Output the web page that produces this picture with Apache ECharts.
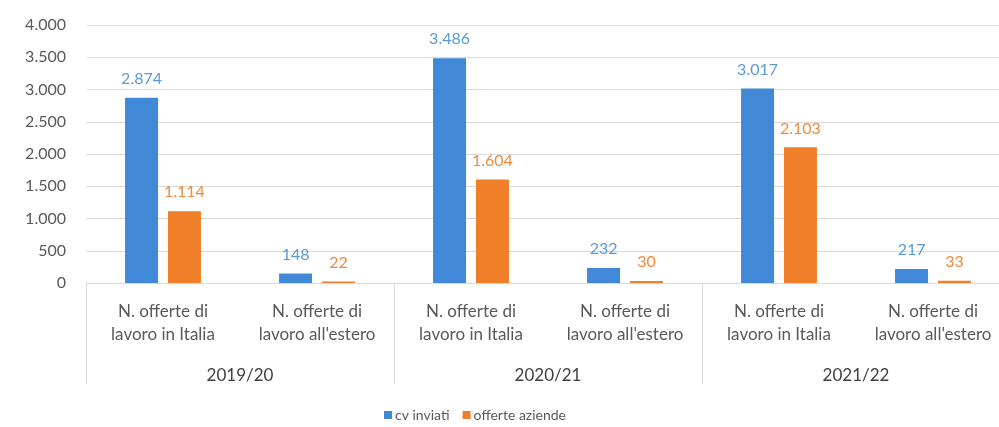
<!DOCTYPE html>
<html>
<head>
<meta charset="utf-8">
<script src="https://cdn.jsdelivr.net/npm/echarts@6/dist/echarts.min.js"></script>
<style>html,body{margin:0;padding:0;background:#fff;}#c{width:999px;height:427px;}</style>
</head>
<body>
<div id="c"></div>
<script>
const subCategories = ["N. offerte di\nlavoro in Italia", "N. offerte di\nlavoro all'estero",
                       "N. offerte di\nlavoro in Italia", "N. offerte di\nlavoro all'estero",
                       "N. offerte di\nlavoro in Italia", "N. offerte di\nlavoro all'estero"];
const groups = ["2019/20", "2020/21", "2021/22"];
const cvInviati = [2874, 148, 3486, 232, 3017, 217];
const offerteAziende = [1114, 22, 1604, 30, 2103, 33];
const seriesNames = ["cv inviati", "offerte aziende"];
const yTicks = { min: 0, max: 4000, interval: 500 };

const fmt = v => String(v).replace(/\B(?=(\d{3})+(?!\d))/g, '.');
const FONT = 'Lato, "Liberation Sans", sans-serif';
const chart = echarts.init(document.getElementById('c'), null, { renderer: 'canvas' });
chart.setOption({
  animation: false,
  backgroundColor: '#fff',
  textStyle: { fontFamily: FONT },
  grid: { left: 86, width: 924, top: 25, height: 258, containLabel: false, outerBoundsMode: 'none' },
  legend: {
    left: 379, top: 403, itemWidth: 8, itemHeight: 8, itemGap: 13,
    icon: 'rect',
    textStyle: { fontFamily: FONT, fontSize: 14, color: '#595959', padding: [0, 0, 0, -2] },
    data: seriesNames
  },
  xAxis: [
    {
      type: 'category', data: subCategories, position: 'bottom',
      axisLine: { show: true, lineStyle: { color: '#d9d9d9', width: 1 } },
      axisTick: { show: false },
      axisLabel: { interval: 0, margin: 17, fontSize: 17, lineHeight: 23, color: '#595959', fontFamily: FONT }
    },
    {
      type: 'category', data: groups, position: 'bottom',
      axisLine: { show: false },
      axisTick: { show: true, length: 101, lineStyle: { color: '#d9d9d9', width: 1 } },
      axisLabel: { interval: 0, margin: 84, fontSize: 17, color: '#404040', fontFamily: FONT }
    }
  ],
  yAxis: {
    type: 'value', min: yTicks.min, max: yTicks.max, interval: yTicks.interval,
    axisLine: { show: false }, axisTick: { show: false },
    splitLine: { lineStyle: { color: '#d9d9d9', width: 1 } },
    axisLabel: { margin: 20, fontSize: 16, color: '#595959', fontFamily: FONT, formatter: fmt }
  },
  series: [
    {
      name: seriesNames[0], type: 'bar', xAxisIndex: 0, data: cvInviati,
      barWidth: 33, barGap: '30%',
      itemStyle: { color: '#4189d6' },
      label: { show: true, position: 'top', distance: 11, fontSize: 16, color: '#5b9bd5', fontFamily: FONT, formatter: p => fmt(p.value) }
    },
    {
      name: seriesNames[1], type: 'bar', xAxisIndex: 0, data: offerteAziende,
      barWidth: 33, barGap: '30%',
      itemStyle: { color: '#f07f2a' },
      label: { show: true, position: 'top', distance: 11, fontSize: 16, color: '#f08a3c', fontFamily: FONT, formatter: p => fmt(p.value) }
    }
  ]
});
</script>
</body>
</html>
